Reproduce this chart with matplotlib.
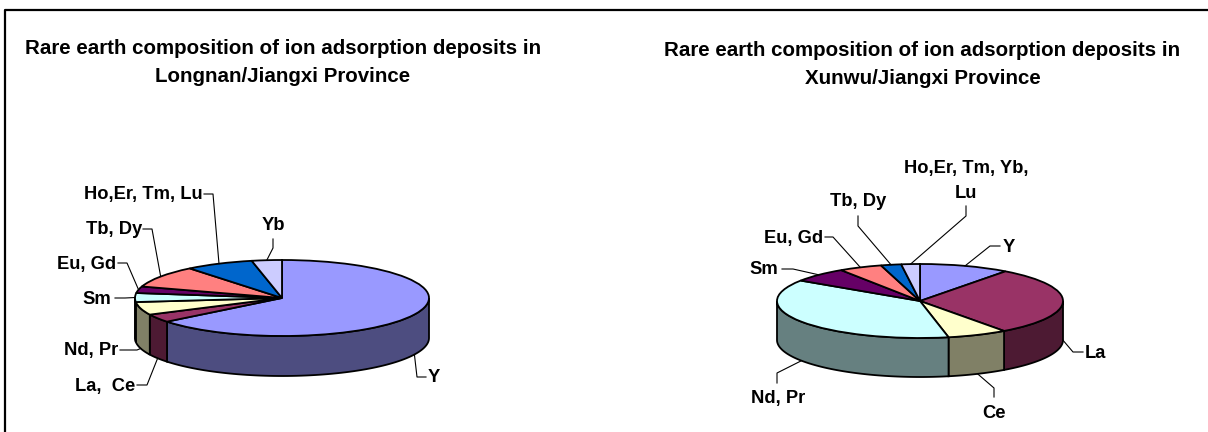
import numpy as np
import matplotlib
matplotlib.use('Agg')
import matplotlib.pyplot as plt

plt.rcParams['font.family'] = ['Liberation Sans', 'DejaVu Sans']
plt.rcParams['font.weight'] = 'bold'

W, H = 1208, 432

# slice shares in percent, clockwise from 12 o'clock
left_values = [64.3, 3.5, 5.5, 3.8, 2.8, 9.3, 7.5, 3.3]
left_labels = ['Y', 'La,  Ce', 'Nd, Pr', 'Sm', 'Eu, Gd', 'Tb, Dy', 'Ho,Er, Tm, Lu', 'Yb']
left_title = 'Rare earth composition of ion adsorption deposits in\nLongnan/Jiangxi Province'

right_values = [10.2, 29.8, 6.8, 37.5, 6.4, 4.9, 2.3, 2.1]
right_labels = ['Y', 'La', 'Ce', 'Nd, Pr', 'Sm', 'Eu, Gd', 'Tb, Dy', 'Ho,Er, Tm, Yb,\nLu']
right_title = 'Rare earth composition of ion adsorption deposits in\nXunwu/Jiangxi Province'

top_colors = ['#9999FF', '#993366', '#FFFFCC', '#CCFFFF', '#660066', '#FF8080', '#0066CC', '#CCCCFF']
side_colors = ['#4D4D80', '#4D1A33', '#808066', '#668080', '#330033', '#804040', '#003366', '#666680']

# text x, y, ha, leader elbow, leader end, in figure pixels
left_layout = [
    (428, 378, 'left', (417, 377), (426, 377)),
    (135, 386, 'right', (147, 385), (137, 385)),
    (118, 351, 'right', (137, 350), (120, 350)),
    (111, 299, 'right', (125, 298), (115, 298)),
    (116, 264, 'right', (127, 263), (118, 263)),
    (142, 230, 'right', (152, 229), (143, 229)),
    (203, 195, 'right', (213, 194), (204, 194)),
    (273, 225, 'center', (273, 248), (273, 239)),
]
right_layout = [
    (1003, 247, 'left', (990, 246), (1000, 246)),
    (1085, 353, 'left', (1073, 352), (1083, 352)),
    (994, 414, 'center', (994, 388), (994, 397)),
    (778, 399, 'center', (777, 373), (777, 383)),
    (778, 270, 'right', (793, 269), (782, 269)),
    (823, 238, 'right', (833, 237), (825, 237)),
    (858, 202, 'center', (858, 226), (858, 216)),
    (966, 181, 'center', (966, 216), (966, 206)),
]

LABEL_SIZE = 13.2
TITLE_SIZE = 14.75
EDGE = 1.3


def draw_pie(cx, cy, rx, ry, depth, values, labels, layout):
    ax = fig.add_axes([(cx - rx * 1.1) / W, 1 - (cy + ry * 1.1 + depth * 1.5) / H,
                       rx * 2.2 / W, (ry * 2.2 + depth * 1.5) / H])
    ax.axis('off')

    edges = np.cumsum([0] + values) * 3.6
    dz = depth / ry
    # side wall first, only the front half of the ellipse shows
    for i in range(len(values)):
        a1 = max(edges[i], 90)
        a2 = min(edges[i + 1], 270)
        if a2 <= a1:
            continue
        a = np.radians(np.linspace(a1, a2, 80))
        xs = np.r_[np.sin(a), np.sin(a)[::-1]]
        ys = np.r_[np.cos(a), np.cos(a)[::-1] - dz]
        ax.fill(xs, ys, facecolor=side_colors[i], edgecolor='black', linewidth=EDGE, clip_on=False)

    ax.pie(values, colors=top_colors, startangle=90, counterclock=False,
           wedgeprops={'edgecolor': 'black', 'linewidth': EDGE})
    ax.set_aspect('auto')
    ax.set_xlim(-1.1, 1.1)
    ax.set_ylim(-1.1 - dz * 1.5, 1.1)

    # labels with elbow leaders that start at the middle of each slice
    mids = np.radians((edges[:-1] + edges[1:]) / 2)
    for m, lab, (tx, ty, ha, elbow, end) in zip(mids, labels, layout):
        px = cx + rx * np.sin(m)
        py = cy - ry * np.cos(m)
        if np.cos(m) < 0:
            py += depth
        overlay.plot([px, elbow[0], end[0]], [py, elbow[1], end[1]], color='black', lw=0.8)
        overlay.text(tx, ty, lab, ha=ha, va='center', fontsize=LABEL_SIZE, linespacing=1.55)


fig = plt.figure(figsize=(W / 100, H / 100), dpi=100)
overlay = fig.add_axes([0, 0, 1, 1], zorder=5)
overlay.set_xlim(0, W)
overlay.set_ylim(H, 0)
overlay.axis('off')
overlay.patch.set_alpha(0)

# frame: only left and top edges fall inside the picture
overlay.plot([5, 5, W], [H, 10, 10], color='black', lw=1.6, clip_on=False)

draw_pie(282, 298, 147, 38, 40, left_values, left_labels, left_layout)
draw_pie(920, 301, 143, 37, 39, right_values, right_labels, right_layout)

overlay.text(283, 63, left_title, ha='center', va='center', fontsize=TITLE_SIZE, linespacing=1.6)
overlay.text(922.5, 65, right_title, ha='center', va='center', fontsize=TITLE_SIZE, linespacing=1.6)

fig.savefig('out.png', dpi=100)
